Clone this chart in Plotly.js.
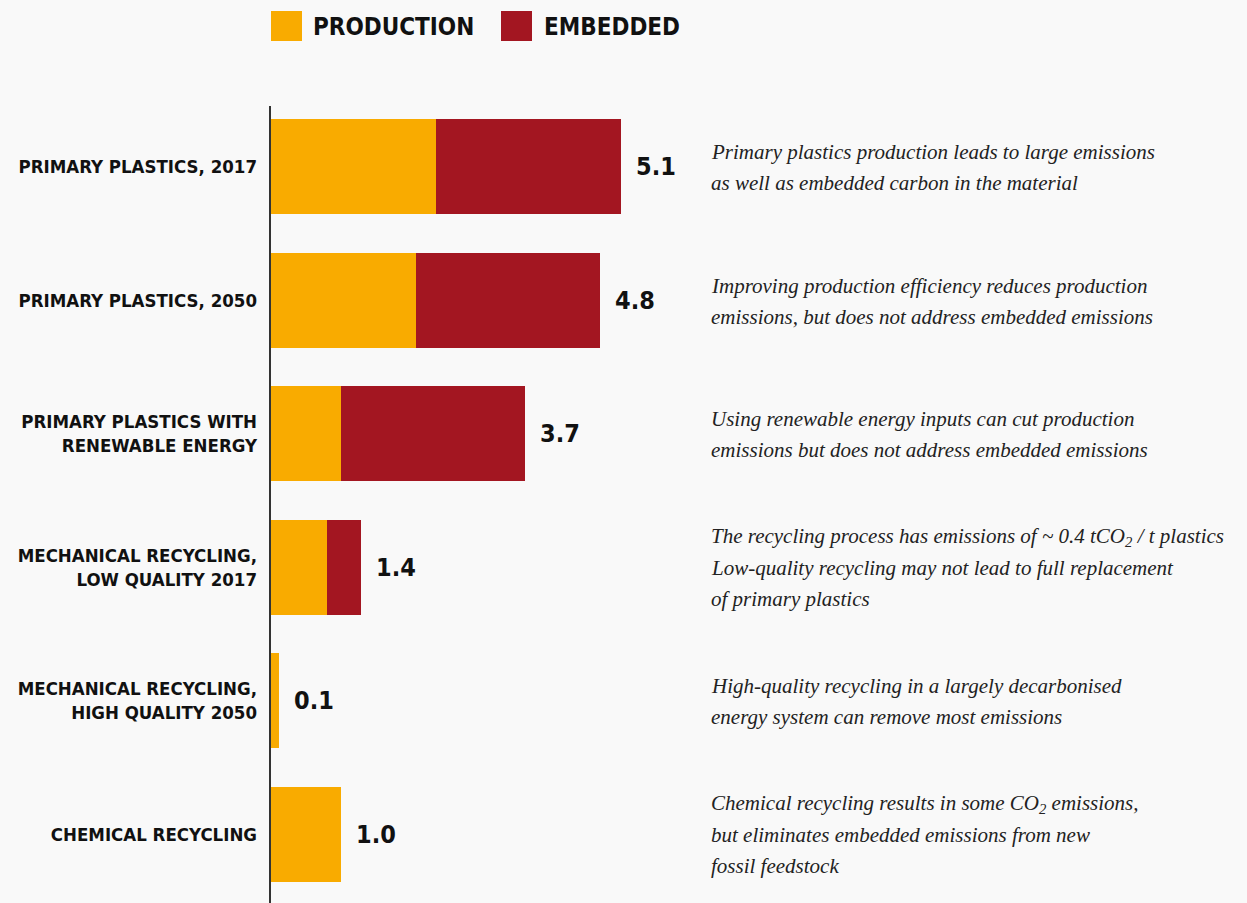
<!DOCTYPE html>
<html>
<head>
<meta charset="utf-8">
<script src="https://cdn.plot.ly/plotly-3.0.1.min.js"></script>
<style>
html,body{margin:0;padding:0;background:#f9f9f9;}
#chart{width:1247px;height:903px;}
</style>
</head>
<body>
<div id="chart"></div>
<script>
// ---- data ----
const categories = [
  "PRIMARY PLASTICS, 2017",
  "PRIMARY PLASTICS, 2050",
  "PRIMARY PLASTICS WITH<br>RENEWABLE ENERGY",
  "MECHANICAL RECYCLING,<br>LOW QUALITY 2017",
  "MECHANICAL RECYCLING,<br>HIGH QUALITY 2050",
  "CHEMICAL RECYCLING"
];
const production = [2.41, 2.12, 1.03, 0.83, 0.13, 1.03];
const embedded   = [2.69, 2.68, 2.67, 0.49, 0, 0];
const totalLabels = ["5.1", "4.8", "3.7", "1.4", "0.1", "1.0"];
const seriesNames = ["PRODUCTION", "EMBEDDED"];
const notes = [
  ["Primary plastics production leads to large emissions", "as well as embedded carbon in the material"],
  ["Improving production efficiency reduces production", "emissions, but does not address embedded emissions"],
  ["Using renewable energy inputs can cut production", "emissions but does not address embedded emissions"],
  ["The recycling process has emissions of ~ 0.4 tCO<sub>2</sub> / t plastics", "Low-quality recycling may not lead to full replacement", "of primary plastics"],
  ["High-quality recycling in a largely decarbonised", "energy system can remove most emissions"],
  ["Chemical recycling results in some CO<sub>2</sub> emissions,", "but eliminates embedded emissions from new", "fossil feedstock"]
];

// ---- styles ----
const W = 1247, H = 903;
const M = {l: 270, r: 0, t: 100, b: 2};
const colProd = "#f9ab00", colEmb = "#a31621";
const condensed = "'Liberation Sans Narrow', 'DejaVu Sans Condensed', 'Roboto Condensed', Arial, sans-serif";
const serif = "'Liberation Serif', 'DejaVu Serif', serif";
const plotW = W - M.l - M.r, plotH = H - M.t - M.b;
const pxPerUnit = 68.8;
const px2x = px => (px - M.l) / plotW;
const py2y = py => (H - M.b - py) / plotH;

const totals = production.map((p, i) => p + embedded[i]);

const traces = [
  {type: "bar", orientation: "h", y: categories, x: production, name: seriesNames[0],
   marker: {color: colProd}, hoverinfo: "skip"},
  {type: "bar", orientation: "h", y: categories, x: embedded, name: seriesNames[1],
   marker: {color: colEmb}, hoverinfo: "skip"}
];

const annotations = [];
const shapes = [];

// value labels
categories.forEach((c, i) => {
  annotations.push({
    x: totals[i], y: c, xref: "x", yref: "y", xanchor: "left", yanchor: "middle",
    xshift: 13, showarrow: false, text: totalLabels[i],
    font: {family: condensed, size: 25, color: "#111", weight: "bold"}
  });
});

// notes, one annotation per line
const lineGap = 31;
notes.forEach((lines, i) => {
  const n = lines.length;
  lines.forEach((ln, k) => {
    annotations.push({
      x: px2x(712), y: categories[i], xref: "paper", yref: "y",
      xanchor: "left", yanchor: "middle", showarrow: false, xshift: -3,
      yshift: -((k - (n - 1) / 2) * lineGap) - 1,
      text: "<i>" + ln + "</i>",
      font: {family: serif, size: 21, color: "#222"}
    });
  });
});

// custom legend
const legendItems = [
  {sq: [271, 302], tx: 313, color: colProd, name: seriesNames[0]},
  {sq: [501, 532], tx: 544, color: colEmb, name: seriesNames[1]}
];
legendItems.forEach(it => {
  shapes.push({type: "rect", xref: "paper", yref: "paper",
    x0: px2x(it.sq[0]), x1: px2x(it.sq[1]), y0: py2y(41), y1: py2y(11),
    fillcolor: it.color, line: {width: 0}});
  annotations.push({x: px2x(it.tx), y: py2y(27), xref: "paper", yref: "paper",
    xanchor: "left", yanchor: "middle", showarrow: false, xshift: -2, text: it.name,
    font: {family: condensed, size: 24, color: "#111", weight: "bold"}});
});

// vertical axis line
shapes.push({type: "line", xref: "paper", yref: "paper", x0: 0, x1: 0,
  y0: py2y(903), y1: py2y(106), line: {color: "#333", width: 2}});

const layout = {
  width: W, height: H, margin: M,
  paper_bgcolor: "#f9f9f9", plot_bgcolor: "#f9f9f9",
  barmode: "stack", bargap: 0.288, showlegend: false,
  xaxis: {range: [0, plotW / pxPerUnit], showgrid: false, zeroline: false,
    showticklabels: false, ticks: "", showline: false, fixedrange: true},
  yaxis: {type: "category", autorange: "reversed", showgrid: false, zeroline: false,
    showline: false, ticks: "", ticklabelstandoff: 12,
    tickfont: {family: condensed, size: 18.5, color: "#111", weight: "bold"}},
  annotations: annotations, shapes: shapes,
  font: {family: condensed}
};

Plotly.newPlot("chart", traces, layout, {displayModeBar: false, staticPlot: true});
</script>
</body>
</html>
